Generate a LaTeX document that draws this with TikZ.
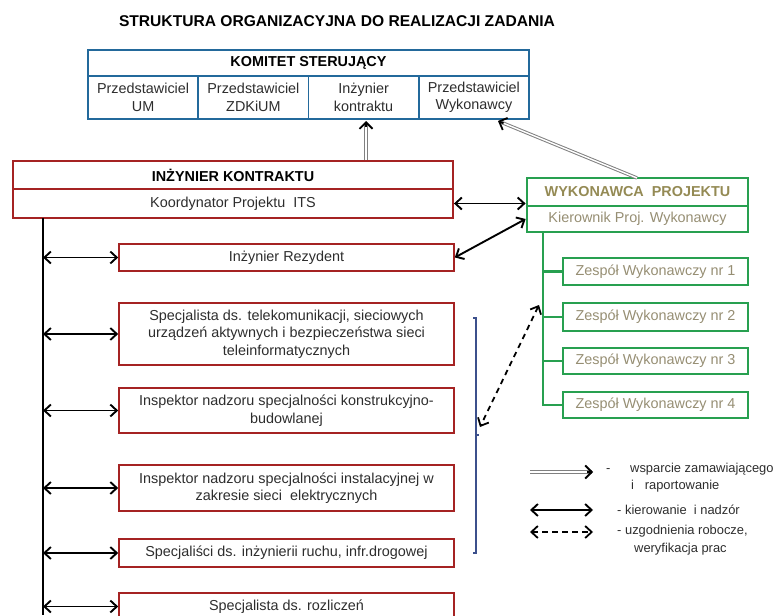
\documentclass[tikz,border=0pt]{standalone}
\usepackage{fontspec}
\setmainfont{Liberation Sans}
\usetikzlibrary{arrows.meta,calc}
\definecolor{rd}{RGB}{165,35,35}
\definecolor{bl}{RGB}{35,105,155}
\definecolor{gr}{RGB}{40,160,80}
\definecolor{ol}{RGB}{148,138,84}
\definecolor{gy}{RGB}{150,142,115}
\definecolor{txt}{RGB}{45,45,45}
\definecolor{brk}{RGB}{60,80,140}
\begin{document}
\begin{tikzpicture}[x=1pt,y=-1pt,
  >={Straight Barb[length=6.5pt,width=12pt]},
  base/.style={font=\fontsize{14.4}{17.5}\selectfont, text=txt, inner sep=0pt, align=center},
  redbox/.style={base, draw=rd, line width=1.6pt, minimum width=335pt},
  ikbox/.style={base, draw=rd, line width=1.9pt, minimum width=440pt},
  kbox/.style={base, draw=bl, line width=1.7pt, minimum width=110.25pt, minimum height=43pt},
  gbox/.style={base, draw=gr, line width=2.8pt, text=gy},
  both/.style={draw=black, line width=1.9pt, <->},
  dsh/.style={draw=black, line width=1.8pt, dash pattern=on 5.5pt off 4.5pt, <->},
  supp/.style={draw=black!50, double=white, double distance=1.4pt, line width=1pt, shorten >=1.5pt},
  supptip/.style={draw=black, line width=1.8pt, -{Straight Barb[length=6.5pt,width=13pt]}},
  leg/.style={font=\fontsize{12.9}{15}\selectfont, text=txt, inner sep=0pt, anchor=base west}
]
\useasboundingbox (0,0) rectangle (775,615);
\clip (0,0) rectangle (775,615);

% title
\node[font=\fontsize{15.6}{18}\selectfont\bfseries, text=black, inner sep=0pt] (title) at (337,21) {STRUKTURA ORGANIZACYJNA DO REALIZACJI ZADANIA};

% Komitet sterujacy
\node[base, draw=bl, line width=1.7pt, minimum width=441pt, minimum height=26pt, font=\fontsize{14.4}{17.5}\selectfont\bfseries, text=black] (kh) at (308.5,63) {KOMITET STERUJĄCY};
\node[kbox] (k1) at (143.1,97.5) {Przedstawiciel\\UM};
\node[kbox] (k2) at (253.4,97.5) {Przedstawiciel\\ZDKiUM};
\node[kbox] (k3) at (363.6,97.5) {Inżynier\\kontraktu};
\node[kbox] (k4) at (473.9,97.5) {Przedstawiciel\\Wykonawcy};

% Inzynier kontraktu
\node[ikbox, minimum height=28pt, font=\fontsize{14.4}{17.5}\selectfont\bfseries, text=black] (ikh) at (233,175) {INŻYNIER KONTRAKTU};
\node[ikbox, minimum height=29pt] (ikk) at (233,203.5) {Koordynator Projektu\ \ ITS};

% column of specialists
\node[redbox, minimum height=27pt] (rez) at (286.5,257.5) {Inżynier Rezydent};
\node[redbox, minimum height=62pt] (s1) at (286.5,334) {Specjalista ds. telekomunikacji, sieciowych\\urządzeń aktywnych i bezpieczeństwa sieci\\teleinformatycznych};
\node[redbox, minimum height=45pt] (s2) at (286.5,410.5) {Inspektor nadzoru specjalności konstrukcyjno-\\budowlanej};
\node[redbox, minimum height=46pt] (s3) at (286.5,488) {Inspektor nadzoru specjalności instalacyjnej w\\zakresie sieci\ \ elektrycznych};
\node[redbox, minimum height=28pt] (s4) at (286.5,553) {Specjaliści ds. inżynierii ruchu, infr.drogowej};
\node[redbox, minimum height=27pt] (s5) at (286.5,606.5) {Specjalista ds. rozliczeń};

% Wykonawca
\node[gbox, minimum width=221pt, minimum height=28pt, font=\fontsize{14.4}{17.5}\selectfont\bfseries, text=ol] (wph) at (637.5,192) {WYKONAWCA\ \ PROJEKTU};
\node[gbox, minimum width=221pt, minimum height=26pt] (wpk) at (637.5,219) {Kierownik Proj. Wykonawcy};
\node[gbox, minimum width=185pt, minimum height=27pt] (z1) at (655.5,271.5) {Zespół Wykonawczy nr 1};
\node[gbox, minimum width=185pt, minimum height=28pt] (z2) at (655.5,317) {Zespół Wykonawczy nr 2};
\node[gbox, minimum width=185pt, minimum height=26pt] (z3) at (655.5,361) {Zespół Wykonawczy nr 3};
\node[gbox, minimum width=185pt, minimum height=26pt] (z4) at (655.5,405) {Zespół Wykonawczy nr 4};

% green tree
\coordinate (gtop) at (543,232);
\draw[gr, line width=2.8pt] (gtop) -- (gtop |- z4.west) -- (z4.west);
\draw[gr, line width=2.8pt] (gtop |- z1.west) -- (z1.west);
\draw[gr, line width=2.8pt] (gtop |- z2.west) -- (z2.west);
\draw[gr, line width=2.8pt] (gtop |- z3.west) -- (z3.west);

% black vertical line and arrows
\coordinate (vtop) at (43,218);
\coordinate (vbot) at (43,615);
\draw[black, line width=2pt] (vtop) -- (vbot);
\foreach \n in {rez,s1,s2,s3,s4,s5}{
  \draw[both] (vtop |- \n.west) -- (\n.west);
}

% arrows to Wykonawca
\draw[both] (ikk.east) -- (ikk.east -| wph.west);
\draw[both] (rez.east) -- (wpk.west);

% support arrows (double line, black tip)
\coordinate (kup) at (366,121);
\coordinate (ikup) at (ikh.north -| kup);
\draw[supp] (ikup) -- (kup);
\draw[supptip] ($(kup)!6pt!(ikup)$) -- (kup);
\coordinate (kdiag) at (498,121);
\coordinate (wtop) at (637,178);
\draw[supp] (wtop) -- (kdiag);
\draw[supptip] ($(kdiag)!6pt!(wtop)$) -- (kdiag);

% blue bracket
\coordinate (bt) at (476,318);
\coordinate (bb) at (476,553);
\draw[brk, line width=1.7pt] ($(bt)+(-3,0)$) -- (bt) -- (bb) -- ($(bb)+(-3,0)$);
\draw[brk, line width=1.7pt] (476,435) -- (479,435);

% dashed arrow
\coordinate (da) at (539,305);
\coordinate (db) at (480,427);
\draw[dsh] (da) -- (db);

% legend
\coordinate (l1a) at (530,472); \coordinate (l1b) at (593,472);
\draw[supp] (l1a) -- (l1b);
\draw[supptip] ($(l1b)!6pt!(l1a)$) -- (l1b);
\node[leg] (t1a) at (606,472.5) {-};
\node[leg] (t1b) at (630,472.5) {wsparcie zamawiającego};
\node[leg] (t1c) at (631,489.5) {i\ \ \ raportowanie};
\coordinate (l2a) at (530,510); \coordinate (l2b) at (593,510);
\draw[both] (l2a) -- (l2b);
\node[leg] (t2) at (617,514.5) {- kierowanie\ \ i nadzór};
\coordinate (l3a) at (530,532); \coordinate (l3b) at (593,532);
\draw[dsh] (l3a) -- (l3b);
\node[leg] (t3a) at (617,534.5) {- uzgodnienia\ robocze,};
\node[leg] (t3b) at (634,552.5) {weryfikacja\ prac};
\end{tikzpicture}
\end{document}
